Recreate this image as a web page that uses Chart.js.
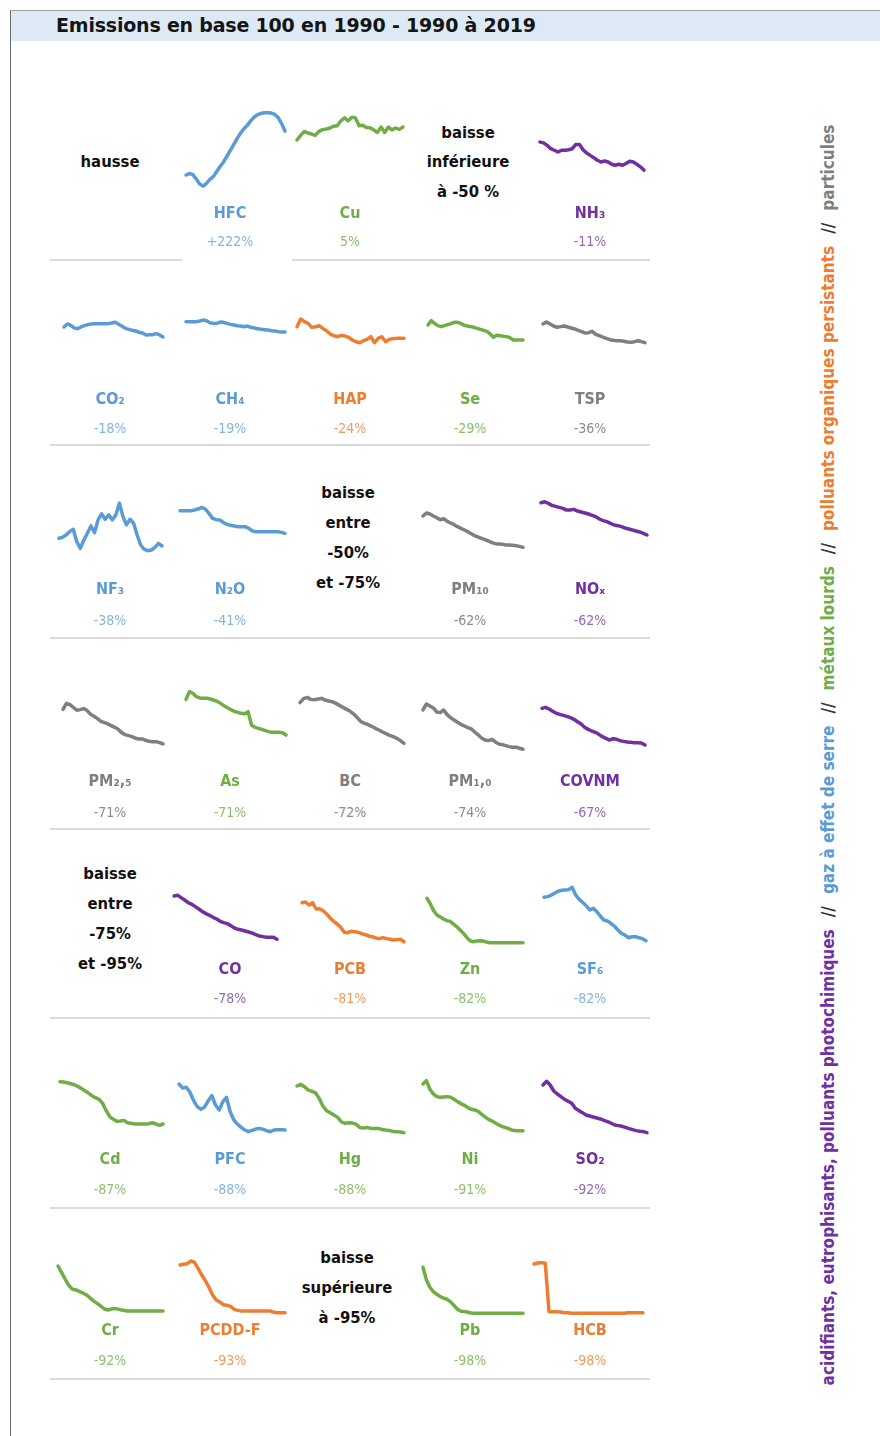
<!DOCTYPE html>
<html lang="fr">
<head>
<meta charset="utf-8">
<title>Emissions en base 100 en 1990</title>
<script src="https://cdn.jsdelivr.net/npm/chart.js@4.4.0/dist/chart.umd.min.js"></script>
<style>
html, body { margin: 0; padding: 0; background: #fff; }
body { width: 880px; height: 1436px; position: relative; overflow: hidden;
       font-family: "DejaVu Sans Condensed", "DejaVu Sans", sans-serif; }
#frame { position: absolute; left: 10px; top: 10px; width: 870px; height: 1426px;
         border-left: 1px solid #6b6b6b; border-top: 1px solid #a0a0a0; box-sizing: border-box; }
#title { position: absolute; left: 11px; top: 11px; width: 869px; height: 30px; background: #ddeaf6; }
#title span { position: absolute; left: 45px; top: 3px; font-family: "DejaVu Sans", sans-serif;
              font-size: 19px; font-weight: bold; color: #151515; letter-spacing: -0.2px; }
.sep { position: absolute; height: 0; border-top: 2px solid #dadada; }
.lbl { position: absolute; transform: translate(-50%, -50%); white-space: nowrap; line-height: 1; }
.name { font-size: 16px; font-weight: bold; }
.pct { font-size: 14px; }
.txt { font-size: 16.5px; font-weight: bold; color: #111; }
canvas { position: absolute; }
#side { position: absolute; left: 828px; top: 755px; transform: translate(-50%, -50%) rotate(-90deg);
        white-space: nowrap; font-size: 17px; font-weight: bold; line-height: 1; }
#side .sl { color: #333; padding: 0 12px; }
</style>
</head>
<body>
<div id="frame"></div>
<div id="title"><span>Emissions en base 100 en 1990 - 1990 à 2019</span></div>
<div id="side"><span style="color:#7030a0">acidifiants, eutrophisants, polluants photochimiques</span><span class="sl">//</span><span style="color:#5b9bd5">gaz à effet de serre</span><span class="sl">//</span><span style="color:#70ad47">métaux lourds</span><span class="sl">//</span><span style="color:#ed7d31">polluants organiques persistants</span><span class="sl">//</span><span style="color:#7f7f7f">particules</span></div>
<script>
// années 1990 -> 2019
const years = [1990, 1991, 1992, 1993, 1994, 1995, 1996, 1997, 1998, 1999,
               2000, 2001, 2002, 2003, 2004, 2005, 2006, 2007, 2008, 2009,
               2010, 2011, 2012, 2013, 2014, 2015, 2016, 2017, 2018, 2019];

// emissions, base 100 en 1990
const hfc = [100, 108, 102, 80, 55, 44, 58, 78, 92, 118, 143, 166, 195, 225, 255, 285, 312, 335, 352, 375, 393, 405, 412, 415, 415, 413, 406, 390, 360, 322];
const cu = [100, 101.8, 103.3, 102.7, 102.3, 101.8, 103.3, 104, 104.2, 104.6, 105.3, 105.5, 107.4, 108.5, 107.4, 108.8, 108.5, 105.5, 105.7, 104.8, 104.7, 103.9, 102.9, 105, 102.9, 105, 103.9, 104.6, 104.1, 105];
const nh3 = [100, 99.7, 98.7, 97.4, 96.8, 96.1, 96.8, 96.8, 97, 97.4, 99.1, 99.1, 97, 95.7, 94.8, 93.9, 92.9, 92.2, 92.6, 92.2, 91.3, 90.9, 91.3, 90.9, 91.6, 92.5, 92.2, 91.3, 90.3, 89];
const co2 = [100, 105.4, 103, 98.2, 97, 100, 102.4, 104.2, 105.4, 106, 106, 106, 106, 106, 107.2, 108.4, 104.8, 101.2, 97.6, 95.8, 94, 92.8, 90.4, 89.2, 85.6, 86.2, 86.2, 88, 85.6, 82];
const ch4 = [100, 100, 100, 100, 101.2, 103, 101.8, 98.2, 96.9, 96.9, 99.4, 98.8, 96.9, 95.1, 93.9, 92.6, 92, 90.8, 92, 89.6, 88.4, 87.1, 85.9, 85.3, 84.7, 83.4, 82.8, 81.6, 81, 81];
const hap = [100, 115.8, 110.3, 106.9, 98.6, 100, 102.1, 96.6, 91.8, 84.9, 81.5, 79.4, 82.2, 80.8, 78, 72.6, 69.1, 67.1, 71.2, 73.9, 79.4, 67.1, 76, 79.4, 69.1, 73.9, 75.3, 76, 76, 76];
const se = [100, 108.4, 103.2, 98.7, 96.8, 98.7, 100.6, 102.6, 105.2, 105.2, 103.2, 99.4, 98.1, 96.8, 95.5, 93.6, 91.6, 89.7, 87.8, 82.6, 76.2, 80, 79.4, 78.1, 77.5, 75.5, 71, 71, 71, 71];
const tsp = [100, 103.9, 100, 96.1, 93.6, 94.9, 96.1, 94.2, 92.3, 90.4, 87.8, 85.2, 82.6, 83.3, 85.9, 80.1, 77.5, 74.9, 72.4, 69.8, 68.5, 67.8, 67.8, 66.6, 65.3, 64.6, 65.9, 67.8, 65.9, 64];
const nf3 = [100, 105, 116.5, 133, 144.6, 83.5, 50.4, 91.7, 124.8, 161, 128, 190.9, 220.6, 194.2, 215.6, 190.9, 215.6, 273.5, 207.4, 166, 194.2, 174.3, 116.5, 67, 45.5, 38.9, 42.2, 55.4, 75.2, 62];
const n2o = [100, 100, 100, 100, 101.2, 103, 106, 103, 95.2, 86.1, 83.7, 83.1, 78.3, 75.3, 73.5, 72.3, 71.1, 71.1, 71.1, 68, 63.2, 62, 62, 62, 62, 62, 62, 62, 60.8, 59];
const pm10 = [100, 105.9, 104, 100, 96.7, 92.7, 94.7, 89.4, 86.1, 82.8, 78.9, 75.6, 72.3, 69, 65, 61.1, 58.4, 55.8, 53.1, 50.5, 47.2, 45.2, 44.6, 43.9, 42.6, 42.6, 41.9, 41.3, 39.9, 38];
const nox = [100, 101.9, 98.7, 94.9, 93, 91.1, 89.1, 85.9, 85.9, 87.2, 84, 82.1, 80.2, 78.3, 75.7, 73.2, 68.7, 65.5, 63.6, 60.4, 57.2, 55.9, 54, 51.4, 49.5, 47.6, 45.7, 43.8, 41.2, 38];
const pm25 = [100, 112.3, 109.6, 104.1, 98, 99.3, 101.4, 97.3, 89.8, 85.7, 80.9, 75.4, 72.7, 70, 66.5, 63.1, 59, 52.2, 48.1, 46, 44, 40.6, 39.2, 39.2, 36.5, 34.4, 33.7, 33.7, 31.7, 29];
const arsenic = [100, 115.3, 112, 105.3, 102.7, 102, 102, 100.7, 98.7, 96, 92, 87.4, 83.4, 79.4, 76.1, 74.1, 72.1, 71.4, 75.4, 48.9, 44.2, 42.2, 40.2, 37.6, 35.6, 34.3, 34.3, 34.3, 33.6, 29];
const bc = [100, 107.1, 109.4, 105.9, 105.3, 106.5, 107.7, 104.7, 103, 101.8, 98.8, 95.3, 91.7, 88.2, 84.7, 79.9, 73.4, 66.4, 63.4, 61.1, 58.1, 54.6, 51.6, 48.1, 45.1, 42.2, 39.8, 36.9, 32.7, 28];
const pm1 = [100, 111.3, 107.5, 103.8, 96.2, 95, 100, 91.2, 85.6, 81.2, 76.8, 73, 69.9, 66.8, 64.3, 58.6, 53, 47.3, 43.6, 42.3, 44.8, 39.8, 36, 34.8, 32.9, 31, 29.8, 29.8, 27.9, 26];
const covnm = [100, 101.8, 98.8, 94.5, 90.9, 89, 87.2, 85.4, 82.9, 79.9, 75.6, 71.4, 65.3, 61.6, 58.6, 56.2, 52.5, 48.2, 45.2, 42.1, 44.6, 43.4, 40.9, 39.7, 38.5, 37.9, 37.3, 37.3, 36.7, 33];
const co = [100, 101.2, 97, 92.8, 88, 85, 80.8, 76.6, 71.8, 68.2, 65.2, 61.6, 58.6, 54.4, 52, 50.2, 46.6, 42.4, 40, 38.8, 37, 35.2, 33.4, 30.4, 28, 26.8, 25.6, 25.6, 25.6, 22];
const pcb = [100, 101.4, 95.2, 100, 86.9, 87.5, 83.4, 76.5, 68.2, 61.2, 55.7, 48.8, 38.4, 37.7, 40.5, 39.8, 38.4, 35.6, 33.6, 30.8, 29.4, 26.6, 25.3, 27.3, 25.3, 23.9, 22.5, 23.2, 23.9, 19];
const zn = [100, 89.5, 77.2, 69.2, 65.5, 61.7, 58.7, 57.4, 52.5, 47.6, 41.4, 35.2, 27.8, 21.6, 19.8, 21, 21.6, 21, 19.2, 18, 18, 18, 18, 18, 18, 18, 18, 18, 18, 18];
const sf6 = [100, 101.3, 103.8, 107.6, 111.4, 113.3, 113.9, 114.5, 118.9, 104.4, 96.2, 90.5, 84.2, 76, 79.2, 72.9, 64.7, 57.1, 55.2, 50.8, 45.7, 38.2, 31.9, 28.7, 23.6, 25.5, 25.5, 23.6, 21.8, 18];
const cd = [100, 99.3, 97.9, 95.9, 93.8, 90.4, 86.3, 81.5, 76.7, 71.2, 67.1, 63.7, 55.5, 40.4, 28.1, 22.6, 18.5, 19.2, 20.5, 15.7, 14.4, 13, 13, 13, 13, 13.7, 15.7, 13, 10.3, 13];
const pfc = [100, 92.3, 93.6, 84.1, 68.1, 56.6, 51.5, 56, 68.1, 77.7, 59.8, 50.2, 66.2, 74.5, 47, 31.1, 23.4, 17.1, 12, 8.8, 11.3, 13.9, 15.1, 13.2, 10.7, 8.8, 12, 12.6, 12.6, 12];
const hg = [100, 103.1, 98.7, 92.5, 89.9, 87.4, 76.7, 62.3, 53.5, 49.7, 45.3, 40.9, 32.7, 29.6, 30.8, 30.2, 28.3, 22, 20.7, 22, 20.1, 20.1, 20.1, 18.2, 17, 16.3, 14.5, 13.8, 13.2, 12];
const ni = [100, 106.5, 89.6, 80.5, 75.3, 74, 74.7, 75.3, 74, 70.1, 65.6, 61.7, 58.4, 53.9, 50.6, 49.3, 46.7, 40.9, 35.7, 31.1, 27.9, 24, 20, 16.8, 14.9, 12.3, 9.7, 9, 9, 9];
const so2 = [100, 107.1, 100, 88.4, 82.6, 77.5, 72.4, 68.5, 64.6, 55, 50.5, 46.6, 42.1, 40.2, 38.3, 36.3, 34.4, 31.8, 29.3, 26.1, 22.8, 21.6, 20.3, 18.3, 15.8, 13.8, 11.9, 10.6, 10, 8];
const cr = [100, 86.4, 72.8, 60.5, 52.3, 51, 47.6, 44.2, 40.1, 33.9, 27.8, 22.4, 16.8, 11.5, 10.1, 12.8, 12.8, 10.8, 9.4, 8, 8, 8, 8, 8, 8, 8, 8, 8, 8, 8];
const pcddf = [100, 101.3, 102.6, 107.8, 105.2, 93.5, 80.5, 69.5, 56.4, 41.5, 31.8, 27.9, 22.7, 21.4, 19.4, 13.6, 11.6, 10.3, 10.3, 10.3, 10.3, 10.3, 10.3, 10.3, 10.3, 10.3, 7.7, 7, 7, 7];
const pb = [100, 73, 57.4, 48.2, 42.5, 37.5, 34, 31.8, 26.2, 18.4, 10.5, 6.3, 5.6, 4.2, 2.7, 2, 2, 2, 2, 2, 2, 2, 2, 2, 2, 2, 2, 2, 2, 2];
const hcb = [100, 102, 102.7, 101.3, 4, 4, 4, 3.4, 2, 2, 1, 1, 1, 1, 1, 1, 1, 1, 1, 1, 1, 1, 1, 1, 1, 2, 2, 2, 2, 2];

// libelles et evolution 1990-2019
const names = ['HFC', 'Cu', 'NH₃', 'CO₂', 'CH₄', 'HAP', 'Se', 'TSP', 'NF₃', 'N₂O', 'PM₁₀', 'NOₓ',
               'PM₂,₅', 'As', 'BC', 'PM₁,₀', 'COVNM', 'CO', 'PCB', 'Zn', 'SF₆',
               'Cd', 'PFC', 'Hg', 'Ni', 'SO₂', 'Cr', 'PCDD-F', 'Pb', 'HCB'];
const changes = ['+222%', '5%', '-11%', '-18%', '-19%', '-24%', '-29%', '-36%', '-38%', '-41%', '-62%', '-62%',
                 '-71%', '-71%', '-72%', '-74%', '-67%', '-78%', '-81%', '-82%', '-82%',
                 '-87%', '-88%', '-88%', '-91%', '-92%', '-92%', '-93%', '-98%', '-98%'];
const families = ['ges', 'ml', 'acid', 'ges', 'ges', 'pop', 'ml', 'part', 'ges', 'ges', 'part', 'acid',
                  'part', 'ml', 'part', 'part', 'acid', 'acid', 'pop', 'ml', 'ges',
                  'ml', 'ges', 'ml', 'ml', 'acid', 'ml', 'pop', 'ml', 'pop'];
const values = [hfc, cu, nh3, co2, ch4, hap, se, tsp, nf3, n2o, pm10, nox,
                pm25, arsenic, bc, pm1, covnm, co, pcb, zn, sf6,
                cd, pfc, hg, ni, so2, cr, pcddf, pb, hcb];

// styles
const lineColors = { ges: '#5b9bd5', ml: '#70ad47', pop: '#ed7d31', part: '#7f7f7f', acid: '#7030a0' };
const pctColors = { ges: '#84b4e1', ml: '#8cbf69', pop: '#f19a60', part: '#8c8c8c', acid: '#9468b8' };

// mise en page : bandes de lignes, colonnes, cadre de chaque courbe
const rows = [
    { top: 100, bottom: 200, nameY: 213, pctY: 241, sepY: 259 },
    { top: 290, bottom: 360, nameY: 399, pctY: 428, sepY: 444 },
    { top: 480, bottom: 580, nameY: 589, pctY: 620, sepY: 637 },
    { top: 670, bottom: 760, nameY: 781, pctY: 812, sepY: 828 },
    { top: 870, bottom: 960, nameY: 969, pctY: 998, sepY: 1017 },
    { top: 1065, bottom: 1150, nameY: 1159, pctY: 1189, sepY: 1207 },
    { top: 1245, bottom: 1330, nameY: 1330, pctY: 1360, sepY: 1378 },
];
const colCenters = [110, 230, 350, 470, 590];
// [ligne, colonne, x gauche, x droite, y min, y max]
const boxes = [
    [0, 1, 186, 285, -26, 479], [0, 2, 297, 403, 76.9, 115.4], [0, 4, 540, 644, 77.3, 116.5],
    [1, 0, 64, 163, 40.6, 166.5], [1, 1, 186, 285, 29.1, 158.7], [1, 2, 297, 404, 31.5, 175.5],
    [1, 3, 428, 523, 32.3, 167.7], [1, 4, 543, 645, 30.6, 165.5],
    [2, 0, 59, 162, -105.8, 387.8], [2, 1, 180, 285, -25.5, 155.6], [2, 3, 423, 523, -26.7, 171.3],
    [2, 4, 541, 647, -48.4, 143.6],
    [3, 0, 63, 163, -3.9, 180.5], [3, 1, 186, 286, -20.7, 158.3], [3, 2, 300, 404, -1.6, 158],
    [3, 3, 423, 523, 5.8, 175.3], [3, 4, 542, 645, 5.7, 169.9],
    [4, 1, 174, 277, -15.3, 146.8], [4, 2, 302, 404, -19.1, 168], [4, 3, 427, 523, -14, 152.3],
    [4, 4, 544, 646, -18.5, 151.6],
    [5, 0, 60, 163, -40.5, 134.4], [5, 1, 179, 285, -26.2, 136.3], [5, 2, 297, 404, -20.5, 139.5],
    [5, 3, 423, 523, -28.7, 137], [5, 4, 543, 647, -25.5, 138.6],
    [6, 0, 58, 163, -30.9, 142.9], [6, 1, 180, 285, -26.7, 139], [6, 3, 423, 523, -33.7, 147.5],
    [6, 4, 534, 643, -32.8, 138.2],
];

// cases de texte
const textCells = [
    { x: 110, ys: [162], lines: ['hausse'] },
    { x: 468, ys: [133, 162, 192], lines: ['baisse', 'inférieure', 'à -50 %'] },
    { x: 348, ys: [493, 523, 553, 583], lines: ['baisse', 'entre', '-50%', 'et -75%'] },
    { x: 110, ys: [874, 904, 934, 964], lines: ['baisse', 'entre', '-75%', 'et -95%'] },
    { x: 347, ys: [1258, 1288, 1318], lines: ['baisse', 'supérieure', 'à -95%'] },
];

const PAD = 4;

function addLabel(text, x, y, cls, color) {
    const d = document.createElement('div');
    d.className = 'lbl ' + cls;
    d.textContent = text;
    d.style.left = x + 'px';
    d.style.top = y + 'px';
    if (color) d.style.color = color;
    document.body.appendChild(d);
}

function addSep(x0, x1, y) {
    const d = document.createElement('div');
    d.className = 'sep';
    d.style.left = x0 + 'px';
    d.style.width = (x1 - x0) + 'px';
    d.style.top = y + 'px';
    document.body.appendChild(d);
}

// separateurs horizontaux
rows.forEach((r, i) => {
    if (i === 0) {
        addSep(50, 182, r.sepY);
        addSep(292, 650, r.sepY);
    } else {
        addSep(50, 650, r.sepY);
    }
});

textCells.forEach(c => c.lines.forEach((t, k) => addLabel(t, c.x, c.ys[k], 'txt')));

// une petite courbe par polluant
boxes.forEach((b, i) => {
    const [row, col, x0, x1, yMin, yMax] = b;
    const r = rows[row];
    const fam = families[i];

    const cv = document.createElement('canvas');
    const w = x1 - x0 + PAD * 2;
    const h = r.bottom - r.top + PAD * 2;
    cv.width = w;
    cv.height = h;
    cv.style.left = (x0 - PAD) + 'px';
    cv.style.top = (r.top - PAD) + 'px';
    cv.style.width = w + 'px';
    cv.style.height = h + 'px';
    document.body.appendChild(cv);

    new Chart(cv, {
        type: 'line',
        data: {
            labels: years,
            datasets: [{
                label: names[i],
                data: values[i],
                borderColor: lineColors[fam],
                borderWidth: 3.5,
                borderCapStyle: 'round',
                borderJoinStyle: 'round',
                pointRadius: 0,
                tension: 0,
                fill: false,
                clip: false,
            }],
        },
        options: {
            responsive: false,
            animation: false,
            layout: { padding: PAD },
            plugins: { legend: { display: false }, tooltip: { enabled: false } },
            scales: {
                x: { display: false },
                y: { display: false, min: yMin, max: yMax },
            },
        },
    });

    addLabel(names[i], colCenters[col], r.nameY, 'name', lineColors[fam]);
    addLabel(changes[i], colCenters[col], r.pctY, 'pct', pctColors[fam]);
});
</script>
</body>
</html>
